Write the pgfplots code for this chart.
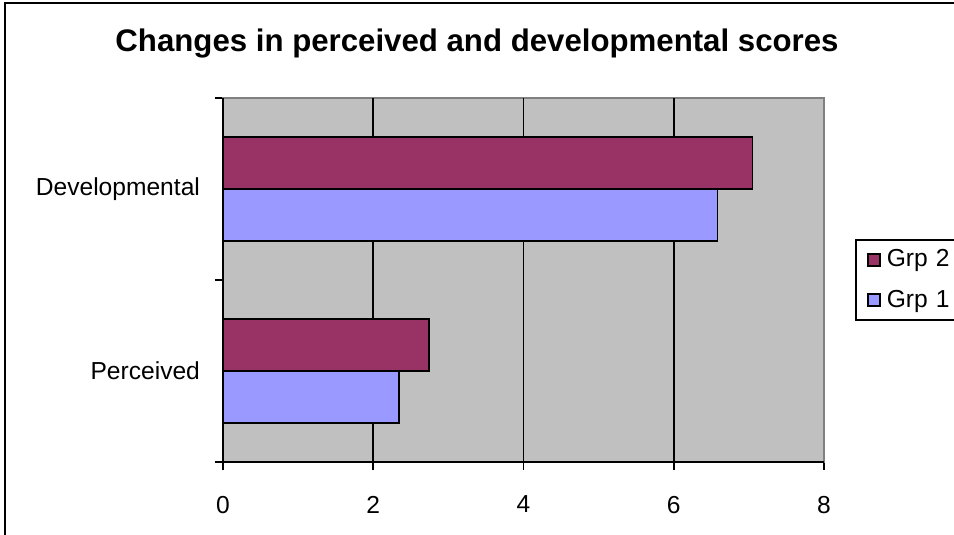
\documentclass[border=0pt]{standalone}
\usepackage{pgfplots}
\pgfplotsset{compat=1.18}
\usepackage{fontspec}
\setmainfont{Liberation Sans}
\definecolor{grp2}{HTML}{993366}
\definecolor{grp1}{HTML}{9999FF}
\definecolor{plotbg}{HTML}{C0C0C0}
\definecolor{frameg}{HTML}{808080}
\begin{document}
\begin{tikzpicture}
\useasboundingbox (0,0) rectangle (477pt,-267.5pt);
\draw[line width=1pt] (2.5pt,-1.75pt) rectangle (520pt,-300pt);
\node[font=\bfseries\fontsize{15.6}{18}\selectfont] at (238.5pt,-22pt) {Changes in perceived and developmental scores};
\begin{axis}[
  at={(111.5pt,-231pt)}, anchor=south west,
  scale only axis, width=300.5pt, height=182pt,
  xbar, bar width=26pt,
  xmin=0, xmax=8, ymin=-0.5, ymax=1.5,
  axis background/.style={fill=plotbg},
  axis line style={draw=frameg, line width=0.8pt},
  tick align=outside,
  xtick pos=bottom, ytick pos=left,
  major tick length=4pt,
  xtick={0,2,4,6,8},
  xticklabels={0,2,4,6,8},
  xtick style={black, line width=0.8pt},
  ytick={-0.5,0.5,1.5},
  yticklabels={},
  ytick style={black, line width=0.8pt},
  extra x ticks={2,4,6},
  extra x tick labels={},
  extra x tick style={grid=major, major tick length=0pt, major grid style={black, line width=0.9pt}},
  extra y ticks={0,1},
  extra y tick labels={Perceived,Developmental},
  extra y tick style={major tick length=0pt, yticklabel style={xshift=-8pt}},
  ticklabel style={font=\fontsize{12.3}{14}\selectfont},
  xticklabel style={yshift=-9.5pt},
  legend cell align=left,
  legend style={at={(1.0516,0.6126)}, anchor=north west, draw=black, line width=0.8pt,
    fill=white, font=\fontsize{12.3}{14}\selectfont, row sep=6pt, inner xsep=0pt, inner ysep=3pt,
    nodes={text width=44pt, align=left, inner xsep=0pt}},
  legend image code/.code={\path[draw=none, fill=none] (0pt,0pt) -- (15.5pt,0pt); \draw[#1, draw=black, line width=0.8pt] (6pt,-3pt) rectangle (12pt,3pt);},
  after end axis/.code={\draw[black, line width=0.8pt] (rel axis cs:0,1) -- (rel axis cs:0,0) -- (rel axis cs:1,0);},
]
\addplot[fill=grp2, draw=black, line width=0.8pt, bar shift=13pt] coordinates {(2.74,0) (7.05,1)};
\addlegendentry{Grp 2}
\addplot[fill=grp1, draw=black, line width=0.8pt, bar shift=-13pt] coordinates {(2.34,0) (6.58,1)};
\addlegendentry{Grp 1}
\end{axis}
\end{tikzpicture}
\end{document}
